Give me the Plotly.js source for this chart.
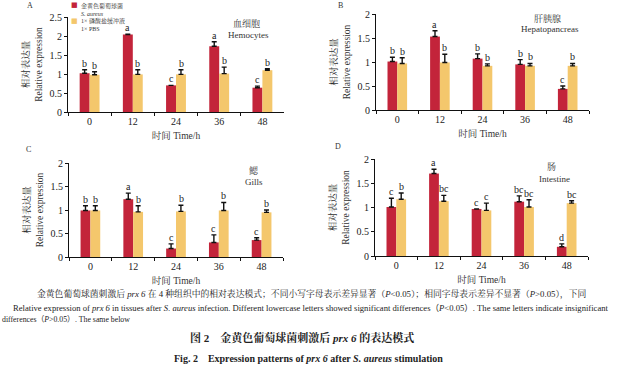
<!DOCTYPE html>
<html>
<head>
<meta charset="utf-8">
<script src="https://cdn.plot.ly/plotly-3.0.1.min.js"></script>
<style>html,body{margin:0;padding:0;background:#fff;}#chart{width:622px;height:366px;}</style>
</head>
<body>
<div id="chart"></div>
<script>
// ---- data ----
const categories = ["0", "12", "24", "36", "48"];
const seriesNames = ["金黄色葡萄球菌<br><i>S. aureus</i>", "1× 磷酸盐缓冲液<br>1× PBS"];

// A Hemocytes
const hemoSA = [1.02, 2.04, 0.70, 1.73, 0.64];
const hemoSAErr = [0.09, 0.01, 0.00, 0.12, 0.04];
const hemoPBS = [0.98, 0.99, 0.99, 1.01, 1.10];
const hemoPBSErr = [0.08, 0.12, 0.12, 0.17, 0.04];
const hemoSALetters = ["b", "a", "c", "a", "c"];
const hemoPBSLetters = ["b", "b", "b", "b", "b"];

// B Hepatopancreas
const hepaSA = [1.01, 1.53, 1.07, 0.95, 0.44];
const hepaSAErr = [0.09, 0.12, 0.10, 0.10, 0.06];
const hepaPBS = [0.97, 0.99, 0.92, 0.92, 0.92];
const hepaPBSErr = [0.12, 0.17, 0.04, 0.05, 0.05];
const hepaSALetters = ["b", "a", "b", "b", "c"];
const hepaPBSLetters = ["b", "b", "b", "b", "b"];

// C Gills
const gillSA = [0.99, 1.23, 0.18, 0.31, 0.36];
const gillSAErr = [0.10, 0.13, 0.10, 0.16, 0.05];
const gillPBS = [0.99, 0.96, 0.97, 0.99, 0.95];
const gillPBSErr = [0.10, 0.13, 0.13, 0.17, 0.05];
const gillSALetters = ["b", "a", "c", "c", "c"];
const gillPBSLetters = ["b", "b", "b", "b", "b"];

// D Intestine
const intSA = [1.01, 1.70, 0.97, 1.12, 0.19];
const intSAErr = [0.18, 0.09, 0.00, 0.12, 0.06];
const intPBS = [1.17, 1.13, 0.94, 1.01, 1.09];
const intPBSErr = [0.13, 0.12, 0.15, 0.15, 0.05];
const intSALetters = ["c", "a", "c", "bc", "d"];
const intPBSLetters = ["b", "bc", "c", "bc", "bc"];

const panelLetters = ["A", "B", "C", "D"];
const tissueCN = ["血细胞", "肝胰腺", "鳃", "肠"];
const tissueEN = ["Hemocytes", "Hepatopancreas", "Gills", "Intestine"];
const yMax = [2.5, 2, 2, 2];

// ---- styling ----
const RED = "#c3243a";
const YEL = "#f4c76c";
const W = 622, H = 366;
const px = x => x / W;
const py = y => 1 - y / H;
const SERIF = "Liberation Serif, Times New Roman, Noto Sans CJK SC, serif";
const CJK = "Liberation Serif, Noto Serif CJK SC, Noto Sans CJK SC, serif";

const panels = [
  {sa: hemoSA, saE: hemoSAErr, pbs: hemoPBS, pbsE: hemoPBSErr, saL: hemoSALetters, pbsL: hemoPBSLetters,
   xd: [68, 284], yd: [112, 17], letter: [30, 5], cn: [246, 24], en: [248, 35]},
  {sa: hepaSA, saE: hepaSAErr, pbs: hepaPBS, pbsE: hepaPBSErr, saL: hepaSALetters, pbsL: hepaPBSLetters,
   xd: [376, 589], yd: [110, 14], letter: [340, 5], cn: [547, 19], en: [550, 29]},
  {sa: gillSA, saE: gillSAErr, pbs: gillPBS, pbsE: gillPBSErr, saL: gillSALetters, pbsL: gillPBSLetters,
   xd: [69, 283], yd: [257, 163], letter: [28, 149], cn: [254, 170], en: [254, 182]},
  {sa: intSA, saE: intSAErr, pbs: intPBS, pbsE: intPBSErr, saL: intSALetters, pbsL: intPBSLetters,
   xd: [375, 588], yd: [256, 159], letter: [338, 146], cn: [551, 167], en: [554, 179]}
];

const traces = [];
const annotations = [];
const layout = {
  width: W, height: H,
  margin: {l: 0, r: 0, t: 0, b: 0},
  paper_bgcolor: "#fff", plot_bgcolor: "#fff",
  barmode: "group", bargap: 0.54, bargroupgap: 0,
  showlegend: false,
  font: {family: SERIF, color: "#222", size: 10}
};

panels.forEach((p, i) => {
  const n = i + 1;
  const xa = "x" + (n === 1 ? "" : n), ya = "y" + (n === 1 ? "" : n);
  const xk = "xaxis" + (n === 1 ? "" : n), yk = "yaxis" + (n === 1 ? "" : n);
  const mk = (vals, errs, color, name) => ({
    type: "bar", x: categories, y: vals, name: name, xaxis: xa, yaxis: ya,
    marker: {color: color, line: {width: 0}},
    error_y: {type: "data", symmetric: false, array: errs, arrayminus: errs.map(() => 0),
              color: "#111", thickness: 1.4, width: 2.5},
    hoverinfo: "none"
  });
  traces.push(mk(p.sa, p.saE, RED, seriesNames[0]));
  traces.push(mk(p.pbs, p.pbsE, YEL, seriesNames[1]));

  layout[xk] = {
    domain: [px(p.xd[0]), px(p.xd[1])], anchor: ya,
    type: "category", categoryorder: "array", categoryarray: categories,
    range: [-0.5, categories.length - 0.5], autorange: false,
    tickson: "boundaries", ticks: "outside", ticklen: 3, tickwidth: 1,
    tickcolor: "#111", showline: true, linecolor: "#111", linewidth: 1,
    showgrid: false, zeroline: false, fixedrange: true,
    tickfont: {family: SERIF, size: 10, color: "#222"},
    title: {text: "时间 Time/h", font: {family: CJK, size: 9.5, color: "#333"}, standoff: 6}
  };
  layout[yk] = {
    domain: [py(p.yd[0]), py(p.yd[1])], anchor: xa,
    range: [0, yMax[i]], autorange: false, dtick: 0.5, ticks: "outside", ticklen: 3, tickwidth: 1,
    tickcolor: "#111", showline: true, linecolor: "#111", linewidth: 1,
    showgrid: false, zeroline: false, fixedrange: true,
    tickfont: {family: SERIF, size: 10, color: "#222"},
    title: {text: "相对表达量<br>Relative expression", font: {family: CJK, size: 9.5, color: "#333"}, standoff: 5}
  };

  // significance letters (x given as category index)
  const addLetters = (vals, errs, letters, shift) => {
    letters.forEach((t, k) => {
      annotations.push({
        xref: xa, yref: ya, x: k, y: vals[k] + errs[k], text: t,
        showarrow: false, xanchor: "center", yanchor: "bottom", xshift: shift, yshift: -1,
        font: {family: SERIF, size: 10, color: "#222"}
      });
    });
  };
  addLetters(p.sa, p.saE, p.saL, -5);
  addLetters(p.pbs, p.pbsE, p.pbsL, 5);

  // panel letter and tissue names
  annotations.push({xref: "paper", yref: "paper", x: px(p.letter[0]), y: py(p.letter[1]), text: panelLetters[i],
    showarrow: false, xanchor: "center", yanchor: "middle", font: {family: SERIF, size: 8, color: "#333"}});
  annotations.push({xref: "paper", yref: "paper", x: px(p.cn[0]), y: py(p.cn[1]), text: tissueCN[i],
    showarrow: false, xanchor: "center", yanchor: "middle", font: {family: CJK, size: 9, color: "#333"}});
  annotations.push({xref: "paper", yref: "paper", x: px(p.en[0]), y: py(p.en[1]), text: tissueEN[i],
    showarrow: false, xanchor: "center", yanchor: "middle", font: {family: SERIF, size: 9, color: "#333"}});
});

// legend (panel A) as text keys
const legendItems = [
  {color: RED, label: seriesNames[0], y: 9},
  {color: YEL, label: seriesNames[1], y: 25}
];
legendItems.forEach(it => {
  annotations.push({xref: "paper", yref: "paper", x: px(74), y: py(it.y - 4), text: "■",
    showarrow: false, xanchor: "center", yanchor: "middle", font: {family: "DejaVu Sans", size: 7, color: it.color}});
  annotations.push({xref: "paper", yref: "paper", x: px(79), y: py(it.y), text: it.label, align: "left",
    showarrow: false, xanchor: "left", yanchor: "middle", font: {family: CJK, size: 6, color: "#333"}});
});

// caption lines
const captionLines = [
  {t: "金黄色葡萄球菌刺激后 <i>prx 6</i> 在 4 种组织中的相对表达模式；不同小写字母表示差异显著（<i>P</i>&lt;0.05）；相同字母表示差异不显著（<i>P</i>&gt;0.05），下同",
   x: 311, y: 294, anchor: "center", size: 8.8, fam: CJK},
  {t: "Relative expression of <i>prx 6</i> in tissues after <i>S. aureus</i> infection. Different lowercase letters showed significant differences（<i>P</i>&lt;0.05）. The same letters indicate insignificant",
   x: 311, y: 308, anchor: "center", size: 8.6, fam: SERIF},
  {t: "differences（<i>P</i>&gt;0.05）. The same below",
   x: 0, y: 319, anchor: "left", size: 7.8, fam: SERIF},
  {t: "<b>图 2　金黄色葡萄球菌刺激后 <i>prx 6</i> 的表达模式</b>",
   x: 302, y: 337, anchor: "center", size: 11, fam: CJK},
  {t: "<b>Fig. 2　Expression patterns of <i>prx 6</i> after <i>S. aureus</i> stimulation</b>",
   x: 308, y: 358, anchor: "center", size: 10, fam: SERIF}
];
captionLines.forEach(c => {
  annotations.push({xref: "paper", yref: "paper", x: px(c.x), y: py(c.y), text: c.t,
    showarrow: false, xanchor: c.anchor, yanchor: "middle", font: {family: c.fam, size: c.size, color: "#222"}});
});

layout.annotations = annotations;
Plotly.newPlot("chart", traces, layout, {staticPlot: true, displayModeBar: false});
</script>
</body>
</html>
